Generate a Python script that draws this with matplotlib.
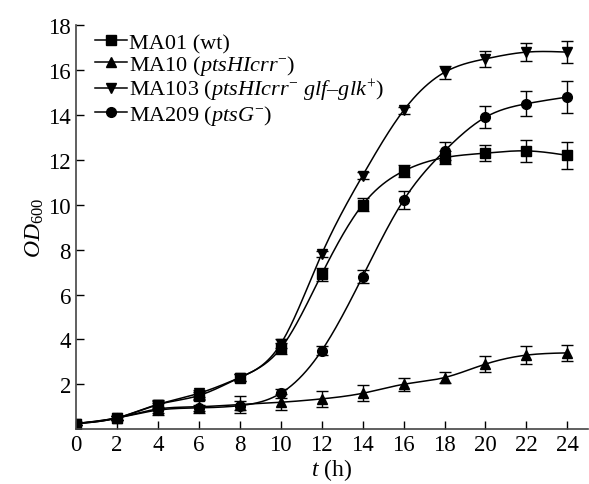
import numpy as np
import matplotlib
matplotlib.use("Agg")
import matplotlib.pyplot as plt

plt.rcParams['font.family'] = ['Liberation Serif', 'DejaVu Serif']
plt.rcParams['mathtext.fontset'] = 'custom'
plt.rcParams['mathtext.rm'] = 'Liberation Serif'
plt.rcParams['mathtext.it'] = 'Liberation Serif:italic'

t = [0, 2, 4, 6, 8, 10, 12, 14, 16, 18, 20, 22, 24]
ma01 = [0.25, 0.5, 1.1, 1.5, 2.3, 3.6, 6.9, 10.0, 11.5, 12.1, 12.3, 12.4, 12.2]
ma01_err = [0.05, 0.1, 0.2, 0.15, 0.15, 0.25, 0.3, 0.3, 0.25, 0.3, 0.35, 0.5, 0.6]
ma10 = [0.25, 0.5, 0.9, 1.0, 1.1, 1.2, 1.35, 1.6, 2.0, 2.3, 2.9, 3.3, 3.4]
ma10_err = [0.05, 0.1, 0.25, 0.3, 0.4, 0.35, 0.35, 0.35, 0.3, 0.25, 0.35, 0.4, 0.35]
ma103 = [0.25, 0.5, 1.1, 1.6, 2.3, 3.8, 7.8, 11.3, 14.2, 15.9, 16.5, 16.8, 16.8]
ma103_err = [0.05, 0.1, 0.15, 0.15, 0.15, 0.2, 0.15, 0.15, 0.15, 0.3, 0.35, 0.4, 0.5]
ma209 = [0.25, 0.5, 0.85, 0.95, 1.05, 1.6, 3.5, 6.8, 10.2, 12.4, 13.9, 14.5, 14.8]
ma209_err = [0.05, 0.1, 0.15, 0.15, 0.2, 0.2, 0.2, 0.3, 0.4, 0.4, 0.5, 0.55, 0.7]

labels = [r'MA01 (wt)',
          r'MA10 ($\it{ptsHIcrr}^{-}$)',
          r'MA103 ($\it{ptsHIcrr}^{-}\ \it{glf}$–$\it{glk}^{+}$)',
          r'MA209 ($\it{ptsG}^{-}$)']
markers = ['s', '^', 'v', 'o']


def spline(x, y, xn):
    x = np.asarray(x, float); y = np.asarray(y, float)
    n = len(x); h = np.diff(x)
    A = np.zeros((n, n)); b = np.zeros(n)
    A[0, 0] = 1; A[-1, -1] = 1
    for i in range(1, n - 1):
        A[i, i - 1] = h[i - 1]; A[i, i] = 2 * (h[i - 1] + h[i]); A[i, i + 1] = h[i]
        b[i] = 6 * ((y[i + 1] - y[i]) / h[i] - (y[i] - y[i - 1]) / h[i - 1])
    M = np.linalg.solve(A, b)
    idx = np.clip(np.searchsorted(x, xn) - 1, 0, n - 2)
    x0 = x[idx]; x1 = x[idx + 1]; hh = h[idx]
    return (M[idx] * (x1 - xn)**3 / (6 * hh) + M[idx + 1] * (xn - x0)**3 / (6 * hh)
            + (y[idx] / hh - M[idx] * hh / 6) * (x1 - xn)
            + (y[idx + 1] / hh - M[idx + 1] * hh / 6) * (xn - x0))


fig = plt.figure(figsize=(5.89, 4.85), dpi=100)
ax = fig.add_axes([0.129, 0.113, 0.869, 0.833])

xs = np.linspace(0, 24, 400)
handles = []
for ys, es, mk, lab in zip([ma01, ma10, ma103, ma209],
                           [ma01_err, ma10_err, ma103_err, ma209_err],
                           markers, labels):
    ax.plot(xs, spline(t, ys, xs), color='black', lw=1.1)
    ax.errorbar(t, ys, yerr=es, fmt='none', ecolor='black', elinewidth=1, capsize=4, capthick=1)
    ax.plot(t, ys, ls='none', marker=mk, color='black', ms=7)
    h, = ax.plot([], [], color='black', lw=1.1, marker=mk, ms=7, label=lab)
    handles.append(h)

ax.set_xlim(0, 25)
ax.set_ylim(0, 18)
ax.set_xticks(range(0, 25, 2))
ax.set_yticks(range(2, 19, 2))
ax.spines['top'].set_visible(False)
ax.spines['right'].set_visible(False)
for s in ['left', 'bottom']:
    ax.spines[s].set_linewidth(1.2)
    ax.spines[s].set_color('#444444')
ax.tick_params(direction='in', labelsize=16.5, length=6, width=1)
ax.set_xlabel(r'$\it{t}$ (h)', fontsize=17, labelpad=1)
ax.set_ylabel(r'$\it{OD}_{600}$', fontsize=17, labelpad=2)

leg = ax.legend(handles=handles, loc='upper left', bbox_to_anchor=(0.012, 1.015), frameon=False,
                fontsize=16, handlelength=1.4, handletextpad=0.1, labelspacing=0.0,
                borderaxespad=0.2)

fig.savefig('out.png', dpi=100)
